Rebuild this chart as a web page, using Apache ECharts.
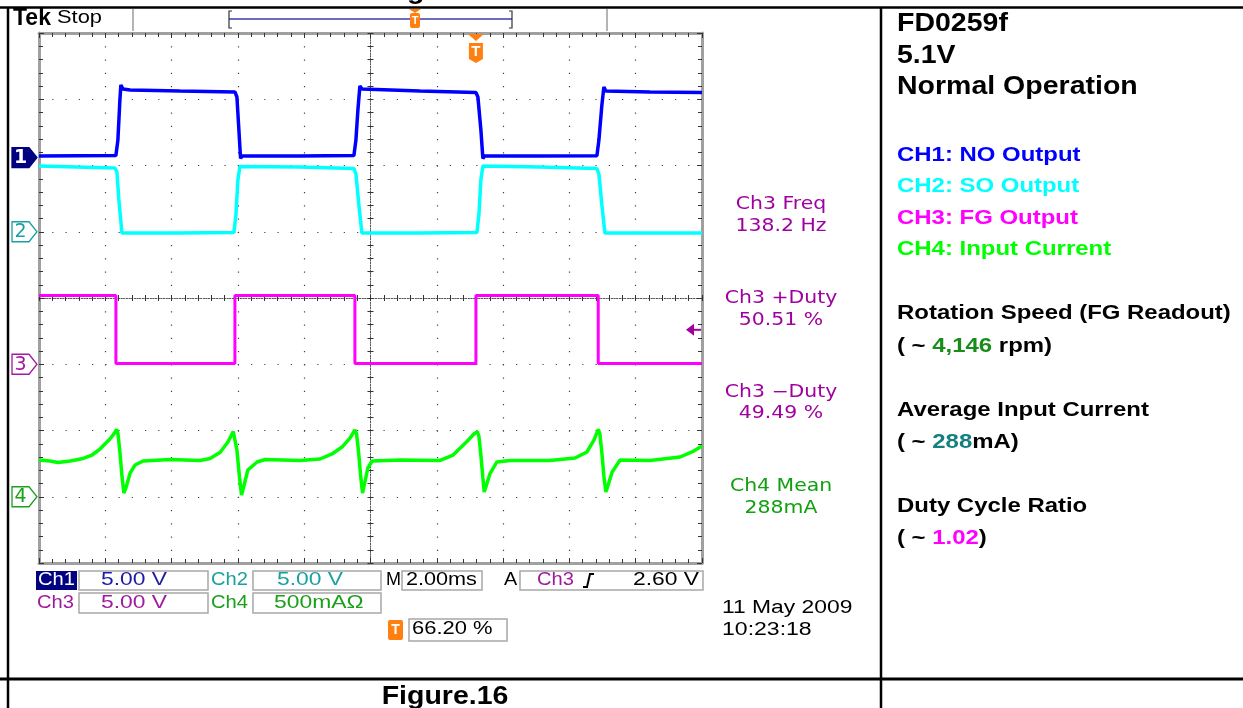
<!DOCTYPE html>
<html><head><meta charset="utf-8">
<script src="https://cdn.jsdelivr.net/npm/echarts@6/dist/echarts.min.js"></script>
<style>html,body{margin:0;padding:0;background:#fff;overflow:hidden}#c{width:1243px;height:708px}</style>
</head><body><div id="c"></div>
<script>
// ---- data (time in ms, values in channel units) ----
const ch1Time = [0,2.32,2.38,2.44,2.47,2.53,2.75,4.25,5.91,5.97,6.03,6.08,6.12,7.87,9.50,9.56,9.62,9.68,9.74,11.49,13.18,13.24,13.33,13.39,13.45,15.11,16.83,16.89,16.98,17.04,17.10,18.43,20.0];
const ch1Volt = [0.12,0.15,1.32,4.34,5.48,5.17,5.10,5.02,4.95,4.57,2.08,-0.07,0.12,0.12,0.15,1.32,3.59,5.40,5.17,5.02,4.91,4.57,2.08,-0.07,0.12,0.12,0.13,1.32,3.97,5.32,5.02,4.95,4.91];
const ch2Time = [0,2.29,2.35,2.41,2.50,2.56,4.25,5.88,5.94,6.00,6.06,7.87,9.50,9.56,9.65,9.74,9.80,11.49,13.21,13.27,13.33,13.39,15.11,16.83,16.89,16.98,17.07,17.13,20.0];
const ch2Volt = [4.96,4.81,4.51,2.40,-0.09,-0.13,-0.09,-0.06,1.26,3.91,4.92,4.89,4.77,4.36,2.02,-0.09,-0.13,-0.09,-0.06,1.26,3.91,4.96,4.89,4.77,4.36,2.02,-0.09,-0.13,-0.09];
const ch3Time = [0,2.32,2.32,5.91,5.91,9.53,9.53,13.18,13.18,16.87,16.87,20.0];
const ch3Volt = [5.19,5.19,0.06,0.06,5.19,5.19,0.06,0.06,5.19,5.19,0.06,0.06];
const ch4Time = [0,0.33,0.57,0.94,1.33,1.60,1.84,2.14,2.26,2.34,2.38,2.44,2.50,2.56,2.62,2.75,2.90,3.14,3.95,4.86,5.16,5.46,5.70,5.86,5.91,5.97,6.05,6.11,6.18,6.30,6.58,6.82,7.87,8.48,8.84,9.14,9.38,9.53,9.58,9.64,9.70,9.76,9.83,9.92,10.05,10.89,12.10,12.49,12.90,13.12,13.22,13.27,13.33,13.39,13.43,13.48,13.60,13.81,14.21,15.41,16.17,16.53,16.74,16.87,16.92,16.98,17.04,17.10,17.16,17.29,17.53,18.43,19.34,19.70,20.0];
const ch4mA = [277,270,258,270,289,315,360,436,474,508,481,338,164,28,66,179,240,270,281,274,289,334,413,492,481,353,142,13,81,202,262,281,274,285,323,375,443,504,474,338,164,28,111,217,270,277,274,315,415,474,491,458,315,142,36,74,172,262,274,274,292,338,428,509,474,330,157,36,81,187,277,274,300,338,383];

const chScale = [5, 5, 5, 500];        // units per division
const chOffset = [2.12, 1, -1, -3];    // ground marker position, divisions
const trigTime = 13.18;                // ms
const trigLevel = 2.60;                // V on Ch3
const chColors = ['#0000ff', '#00ffff', '#ff00ff', '#00ff00'];

const measLabels = ['Ch3 Freq', 'Ch3 +Duty', 'Ch3 \u2212Duty', 'Ch4 Mean'];
const measValues = ['138.2 Hz', '50.51 %', '49.49 %', '288mA'];
const legendLines = ['CH1: NO Output', 'CH2: SO Output', 'CH3: FG Output', 'CH4: Input Current'];

// ---- chart ----
const chart = echarts.init(document.getElementById('c'));
const toDiv = (vals, i) => vals.map(v => chOffset[i] + v / chScale[i]);
const pairs = (ts, ds) => ts.map((t, k) => [t, ds[k]]);
const seriesData = [
  pairs(ch1Time, toDiv(ch1Volt, 0)),
  pairs(ch2Time, toDiv(ch2Volt, 1)),
  pairs(ch3Time, toDiv(ch3Volt, 2)),
  pairs(ch4Time, toDiv(ch4mA, 3))
];

const dotGrid = {show: true, lineStyle: {color: '#444', width: 1.2, type: [1.2, 12.05]}};
function borderAxis(pos, split, extra) {
  return Object.assign({
    type: 'value', position: pos,
    axisLine: {show: true, onZero: false, lineStyle: {color: '#a0a0a0', width: 3}},
    axisTick: {show: true, inside: true, length: 5, lineStyle: {color: '#333', width: 1}},
    minorTick: {show: true, splitNumber: 5, length: 4, lineStyle: {color: '#333', width: 1}},
    axisLabel: {show: false},
    splitLine: split ? dotGrid : {show: false}
  }, extra);
}
function centerAxis(pos, off, inside, extra) {
  return Object.assign({
    type: 'value', position: pos, offset: off,
    axisLine: {show: true, onZero: false, lineStyle: {color: '#555', width: 1, type: [1, 1.65]}},
    axisTick: {show: true, inside: inside, length: 3, lineStyle: {color: '#333', width: 1}},
    minorTick: {show: true, splitNumber: 5, length: 3, lineStyle: {color: '#333', width: 1}},
    axisLabel: {show: false}, splitLine: {show: false}
  }, extra);
}
const xr = {min: 0, max: 20, interval: 2};
const yr = {min: -4, max: 4, interval: 1};

const option = {
  animation: false,
  backgroundColor: '#fff',
  grid: {left: 39, top: 33, width: 663, height: 530},
  xAxis: [
    borderAxis('bottom', true, xr),
    borderAxis('top', false, xr),
    centerAxis('bottom', -265, true, xr),
    centerAxis('bottom', -265, false, xr)
  ],
  yAxis: [
    borderAxis('left', true, yr),
    borderAxis('right', false, yr),
    centerAxis('left', -331.5, true, yr),
    centerAxis('left', -331.5, false, yr)
  ],
  series: seriesData.map((d, i) => ({
    type: 'line', data: d, xAxisIndex: 0, yAxisIndex: 0,
    showSymbol: false, symbol: 'none', z: 5 + i,
    lineStyle: {color: chColors[i], width: i === 2 ? 3 : 3.5}, itemStyle: {color: chColors[i]}
  }))
};
chart.setOption(option);

// ---- decorations ----
const G = [];
const F_ARIAL = 'Liberation Sans, Arial, sans-serif';
const F_DV = 'DejaVu Sans, sans-serif';
function T(x, y, text, o) {
  o = o || {};
  G.push({type: 'text', x: x, y: y, scaleX: o.sx || 1, z: 100, silent: true,
    style: {text: text, fill: o.c || '#000', font: o.f,
      align: o.a || 'left', textAlign: o.a || 'left',
      verticalAlign: 'middle', textVerticalAlign: 'middle', rich: o.rich}});
}
function L(x1, y1, x2, y2, c, w, z) {
  G.push({type: 'line', z: z || 90, silent: true, shape: {x1, y1, x2, y2}, style: {stroke: c, lineWidth: w}});
}
function R(x, y, w, h, fill, stroke, lw, r) {
  G.push({type: 'rect', z: 95, silent: true, shape: {x, y, width: w, height: h, r: r || 0},
    style: {fill: fill, stroke: stroke || null, lineWidth: lw || 0}});
}
function P(points, fill, stroke, lw, z) {
  G.push({type: 'polygon', z: z || 96, silent: true, shape: {points}, style: {fill: fill, stroke: stroke || null, lineWidth: lw || 0}});
}
function PL(points, c, w) {
  G.push({type: 'polyline', z: 97, silent: true, shape: {points}, style: {stroke: c, lineWidth: w, fill: null}});
}

// table frame
L(0, 7.5, 1243, 7.5, '#000', 2.5);
L(8, 7, 8, 708, '#000', 2.5);
L(881, 7, 881, 708, '#000', 2.5);
L(0, 679, 1243, 679, '#000', 3);
T(445, -7.5, 'Figure.16', {f: 'bold 25px ' + F_ARIAL, a: 'center', sx: 1.14});
T(445, 697, 'Figure.16', {f: 'bold 25px ' + F_ARIAL, a: 'center', sx: 1.14});

// right panel
const HB = 'bold 25px ' + F_ARIAL, LB = 'bold 21px ' + F_ARIAL;
T(897, 24, 'FD0259f', {f: HB, sx: 1.14});
T(897, 56, '5.1V', {f: HB, sx: 1.14});
T(897, 87, 'Normal Operation', {f: HB, sx: 1.14});
const legY = [155, 186, 218, 249];
legendLines.forEach((s, i) => T(897, legY[i], s, {f: LB, sx: 1.14, c: chColors[i]}));
T(897, 313, 'Rotation Speed (FG Readout)', {f: LB, sx: 1.14});
T(897, 346, '( ~ {g|4,146} rpm)', {f: LB, sx: 1.14, rich: {g: {fill: '#1a8c1a', font: LB}}});
T(897, 410, 'Average Input Current', {f: LB, sx: 1.14});
T(897, 442, '( ~ {t|288}mA)', {f: LB, sx: 1.14, rich: {t: {fill: '#148080', font: LB}}});
T(897, 506, 'Duty Cycle Ratio', {f: LB, sx: 1.14});
T(897, 538, '( ~ {m|1.02})', {f: LB, sx: 1.14, rich: {m: {fill: '#ff00ff', font: LB}}});

// scope status bar
T(13, 18.5, 'Tek', {f: 'bold 23px ' + F_ARIAL});
T(57, 17.5, 'Stop', {f: '19px ' + F_ARIAL, sx: 1.15});
L(133, 9, 133, 31, '#b4b4b4', 2);
L(607, 9, 607, 31, '#b4b4b4', 2);
L(229, 19, 512, 19, '#3c3ca8', 1.5);
PL([[232, 11], [229, 11], [229, 28], [232, 28]], '#333', 1.2);
PL([[509, 11], [512, 11], [512, 28], [509, 28]], '#333', 1.2);
P([[409, 9], [421, 9], [415, 13]], '#ff7f10');
R(410, 13, 10, 15, '#ff7f10', null, 0, 2);
T(415, 20.5, 'T', {f: 'bold 11px ' + F_ARIAL, a: 'center', c: '#fff'});

// measurement readouts inside right of graticule
const MF = '17px ' + F_DV;
const measY = [205, 299, 392.5, 487];
measLabels.forEach((s, i) => {
  const c = i === 3 ? '#10a010' : '#a000a0';
  T(781, measY[i], s, {f: MF, a: 'center', sx: 1.2, c});
  T(781, measY[i] + 21.5, measValues[i], {f: MF, a: 'center', sx: 1.2, c});
});

// bottom readouts
const RF = '18px ' + F_ARIAL, RS = 1.27;
const cNavy = '#1c1ca4', cTeal = '#1aa0a0', cPurp = '#a01aa0', cGrn = '#1aa01a';
R(36, 571, 41, 19, '#000080');
T(38, 580.5, 'Ch1', {f: RF, sx: 1.12, c: '#fff'});
R(79, 571, 129, 19, '#fff', '#a8a8a8', 1.5);
T(101, 580.5, '5.00 V', {f: RF, sx: RS, c: cNavy});
T(211, 580.5, 'Ch2', {f: RF, sx: 1.12, c: cTeal});
R(253, 571, 128, 19, '#fff', '#a8a8a8', 1.5);
T(277, 580.5, '5.00 V', {f: RF, sx: RS, c: cTeal});
T(386, 580.5, 'M', {f: RF, sx: 1.0});
R(402, 571, 80, 19, '#fff', '#a8a8a8', 1.5);
T(406, 580.5, '2.00ms', {f: RF, sx: 1.2});
T(504, 580.5, 'A', {f: RF, sx: 1.1});
R(520, 571, 183, 19, '#fff', '#a8a8a8', 1.5);
T(537, 580.5, 'Ch3', {f: RF, sx: 1.12, c: cPurp});
PL([[583, 587], [587, 587], [590, 574], [594, 574]], '#000', 2);
T(633, 580.5, '2.60 V', {f: RF, sx: RS});

T(37, 603.5, 'Ch3', {f: RF, sx: 1.12, c: cPurp});
R(79, 593, 129, 20, '#fff', '#a8a8a8', 1.5);
T(101, 603.5, '5.00 V', {f: RF, sx: RS, c: cPurp});
T(211, 603.5, 'Ch4', {f: RF, sx: 1.12, c: cGrn});
R(253, 593, 128, 20, '#fff', '#a8a8a8', 1.5);
T(274, 603.5, '500mA\u03a9', {f: RF, sx: RS, c: cGrn});

R(388, 620, 15, 20, '#ff7f10', null, 0, 2);
T(395.5, 630.5, 'T', {f: 'bold 14px ' + F_ARIAL, a: 'center', c: '#fff'});
R(409, 619, 98, 22, '#fff', '#a8a8a8', 1.5);
T(412, 629.5, '66.20 %', {f: RF, sx: 1.22});
T(722, 608.5, '11 May 2009', {f: RF, sx: 1.27});
T(722, 630, '10:23:18', {f: RF, sx: 1.28});

// channel ground markers (positions via the y axis scale)
const markerCols = [{fill: '#000080', stroke: '#000080', txt: '#fff'}, {fill: '#fff', stroke: cTeal, txt: cTeal},
  {fill: '#fff', stroke: cPurp, txt: cPurp}, {fill: '#fff', stroke: cGrn, txt: cGrn}];
chOffset.forEach((off, i) => {
  const y = chart.convertToPixel({yAxisIndex: 0}, off);
  const m = markerCols[i];
  P([[12, y - 10], [29, y - 10], [37, y], [29, y + 10], [12, y + 10]], m.fill, m.stroke, 1.3);
  T(20.5, y + 0.5, String(i + 1), {f: (i === 0 ? 'bold ' : '') + '19px ' + F_DV, a: 'center', c: m.txt});
});

// trigger level arrow (Ch3)
const ty = chart.convertToPixel({yAxisIndex: 0}, chOffset[2] + trigLevel / chScale[2]);
P([[686, ty], [694, ty - 6], [694, ty + 6]], '#a000a0');
L(694, ty, 701, ty, '#a000a0', 2, 96);

// trigger position marker on top of graticule
const tx = chart.convertToPixel({xAxisIndex: 0}, trigTime);
P([[tx - 8, 34], [tx + 8, 34], [tx, 41]], '#ff7f10');
P([[tx - 7, 43], [tx + 7, 43], [tx + 7, 59], [tx, 63], [tx - 7, 59]], '#ff7f10');
T(tx, 52, 'T', {f: 'bold 15px ' + F_ARIAL, a: 'center', c: '#fff'});

chart.setOption({graphic: {elements: G}});
</script>
</body></html>
